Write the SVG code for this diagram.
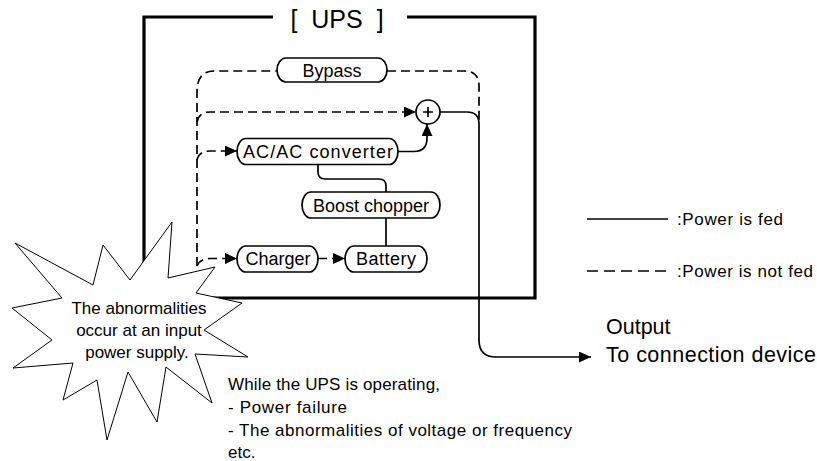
<svg xmlns="http://www.w3.org/2000/svg" width="817" height="461" viewBox="0 0 817 461">
<defs>
<marker id="ah" markerUnits="userSpaceOnUse" markerWidth="13" markerHeight="12" refX="12" refY="5.5" orient="auto">
<path d="M0,0 L12,5.5 L0,11 z" fill="#000"/>
</marker>
<style>
text{font-family:"Liberation Sans",Arial,sans-serif;fill:#000}
.pill{fill:#fff;stroke:#000;stroke-width:1.7}
.pt{font-size:18px;text-anchor:middle}
.solid{fill:none;stroke:#000;stroke-width:1.7}
.dash{fill:none;stroke:#000;stroke-width:1.7;stroke-dasharray:9 5}
.frame{fill:none;stroke:#000;stroke-width:3.2}
.star{fill:#fff;stroke:#000;stroke-width:1}
</style>
</defs>
<rect width="817" height="461" fill="#fff"/>
<g id="ups">
<path class="frame" d="M273,17 H144 V298 H535 V17 H407"/>
<text x="337" y="28" font-size="25" text-anchor="middle" word-spacing="7">[ UPS ]</text>
</g>
<g id="star">
<polygon class="star" points="15,243 93,285 103,245 130,280 172,222 168,278 215,267 196,293 242,303 204,330 248,357 195,354 212,403 166,367 157,422 128,372 107,440 97,380 63,400 73,363 13,368 52,340 12,308 62,298"/>
<text x="139" y="314" font-size="17" text-anchor="middle">The abnormalities</text>
<text x="139" y="336" font-size="17" text-anchor="middle">occur at an input</text>
<text x="137" y="358" font-size="17" text-anchor="middle">power supply.</text>
</g>
<g id="connectors">
<path class="dash" d="M197,266 V92 Q197,71 214,71 H277"/>
<path class="dash" d="M387,71 H464 Q479,71 479,86 V122"/>
<path class="dash" d="M197,122 Q199,112 210,112 H416" marker-end="url(#ah)"/>
<path class="dash" d="M197,160 Q199,151 210,151 H237" marker-end="url(#ah)"/>
<path class="dash" d="M197,266 Q200,258.5 210,258.5 H237" marker-end="url(#ah)"/>
<path class="dash" d="M318,258.5 H345" marker-end="url(#ah)"/>
<path class="solid" d="M398,151.5 H414 Q427,151.5 427,138 V124" marker-end="url(#ah)"/>
<path class="solid" d="M318,165 V172 Q318,179 325,179 H379 Q386,179 386,186 V192"/>
<path class="solid" d="M386,218 V246"/>
<path class="solid" d="M440,112 H467 Q479,112 479,124 V340 Q479,357 496,357 H591" marker-end="url(#ah)"/>
</g>
<g id="n-sum">
<circle class="pill" cx="428" cy="112" r="12"/>
<path class="solid" d="M423,112 H433 M428,107 V117" stroke-width="1.2"/>
</g>
<g id="n-bypass">
<rect class="pill" x="277" y="58" width="110" height="24" rx="9" ry="12"/>
<text class="pt" x="332" y="76.5">Bypass</text>
</g>
<g id="n-acac">
<rect class="pill" x="237" y="138.5" width="161" height="26" rx="9" ry="13"/>
<text class="pt" x="318" y="158" textLength="150">AC/AC converter</text>
</g>
<g id="n-boost">
<rect class="pill" x="302" y="192" width="138" height="26" rx="9" ry="13"/>
<text class="pt" x="371" y="211.5">Boost chopper</text>
</g>
<g id="n-charger">
<rect class="pill" x="237" y="246" width="81" height="26" rx="9" ry="13"/>
<text class="pt" x="278" y="265">Charger</text>
</g>
<g id="n-battery">
<rect class="pill" x="345" y="246" width="82" height="26" rx="9" ry="13"/>
<text class="pt" x="386" y="265" textLength="60">Battery</text>
</g>
<g id="legend">
<line class="solid" x1="587" y1="219" x2="668" y2="219"/>
<text x="677" y="225" font-size="17" textLength="106">:Power is fed</text>
<line class="dash" x1="587" y1="271" x2="668" y2="271" style="stroke-dasharray:11 6"/>
<text x="677" y="277" font-size="17" textLength="136">:Power is not fed</text>
</g>
<g id="output-label">
<text x="606" y="334" font-size="21.5">Output</text>
<text x="606" y="362" font-size="21.5" textLength="210">To connection device</text>
</g>
<g id="note">
<text x="228" y="390" font-size="17" textLength="212">While the UPS is operating,</text>
<text x="228" y="413" font-size="17" textLength="119">- Power failure</text>
<text x="228" y="436" font-size="17" textLength="344">- The abnormalities of voltage or frequency</text>
<text x="228" y="458" font-size="17">etc.</text>
</g>
</svg>
